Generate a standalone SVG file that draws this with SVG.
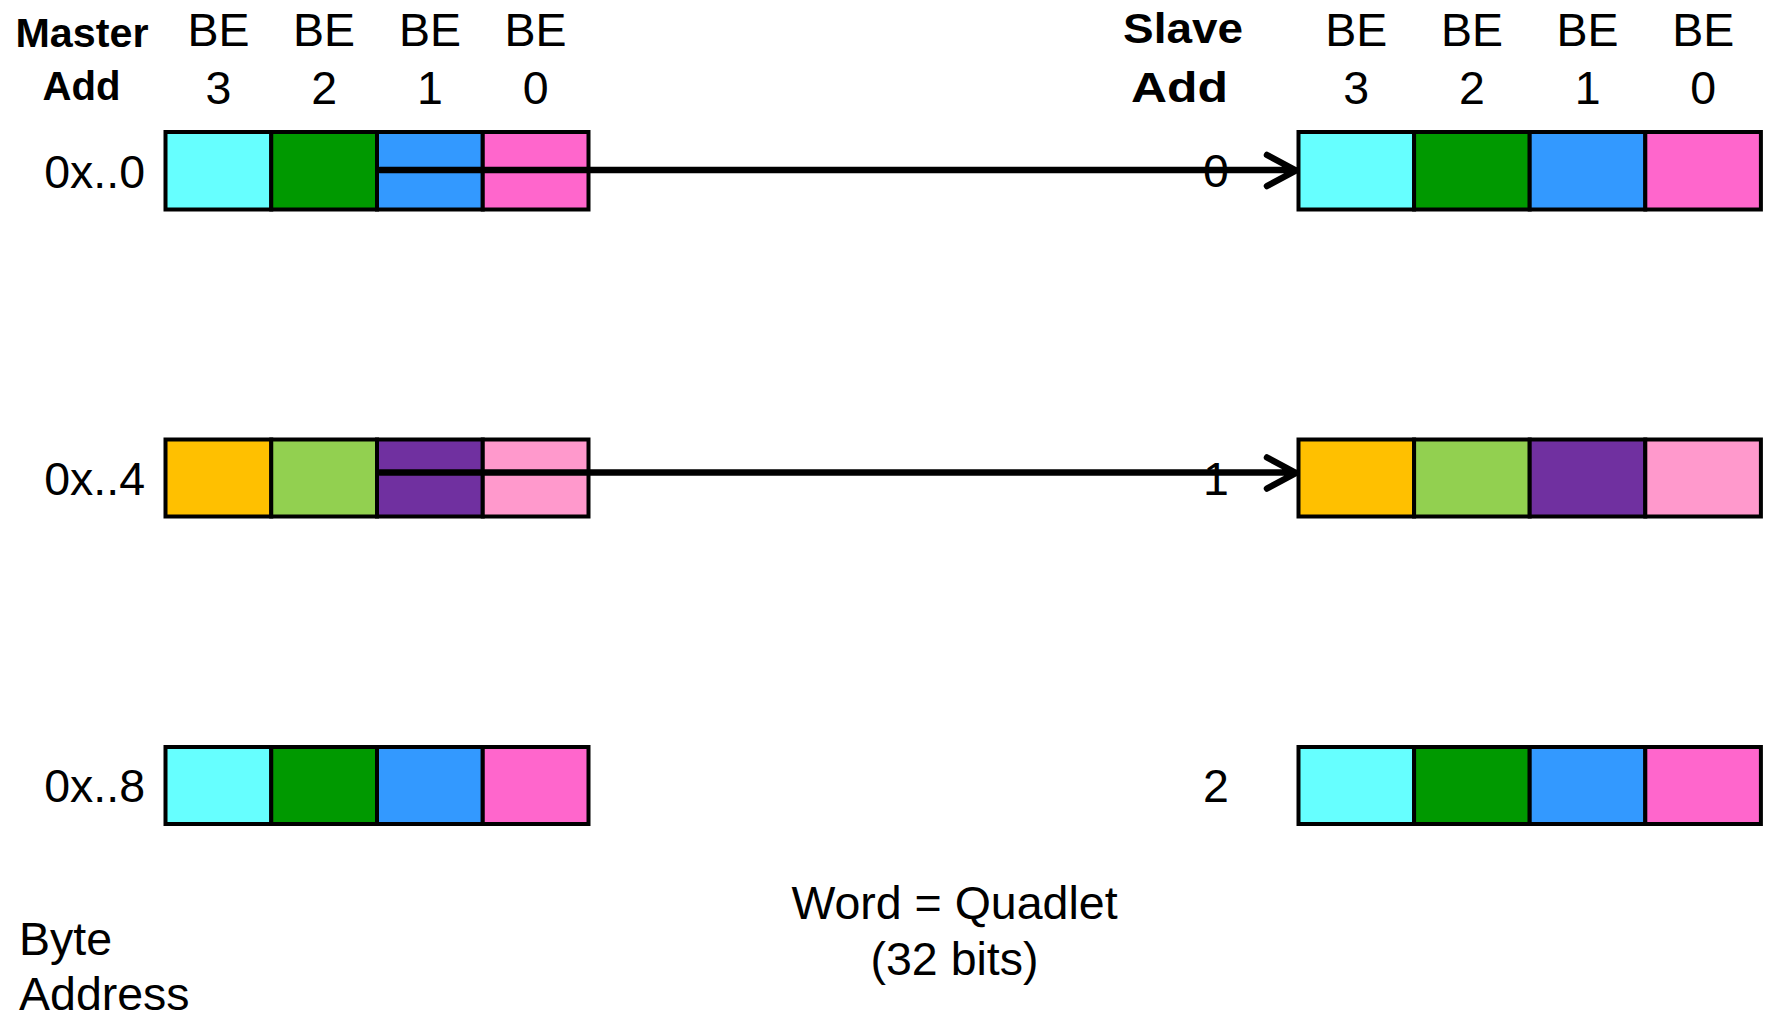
<svg xmlns="http://www.w3.org/2000/svg" width="1767" height="1019" viewBox="0 0 1767 1019">
<defs>
<style>
.t{font-family:"Liberation Sans",Arial,sans-serif;font-size:46.5px;fill:#000}
.b{font-family:"Liberation Sans",Arial,sans-serif;font-weight:bold;fill:#000}
.m{text-anchor:middle}
.e{text-anchor:end}
.c{stroke:#000;stroke-width:4}
.cy{fill:#66FFFF}.gr{fill:#009900}.bl{fill:#3399FF}.pk{fill:#FF66CC}
.or{fill:#FFC000}.lg{fill:#92D050}.pu{fill:#7030A0}.lp{fill:#FF99CC}
.ln{fill:none;stroke:#000;stroke-width:6.5;stroke-linecap:round;stroke-linejoin:round}
</style>
</defs>
<rect width="1767" height="1019" fill="#fff"/>
<g id="master-header">
<text class="b" x="15.5" y="46.5" font-size="40" textLength="133" lengthAdjust="spacingAndGlyphs">Master</text>
<text class="b" x="42.5" y="100" font-size="40" textLength="78" lengthAdjust="spacingAndGlyphs">Add</text>
<text class="t m" x="218.4" y="45.5">BE</text><text class="t m" x="218.4" y="104">3</text>
<text class="t m" x="324.1" y="45.5">BE</text><text class="t m" x="324.1" y="104">2</text>
<text class="t m" x="429.9" y="45.5">BE</text><text class="t m" x="429.9" y="104">1</text>
<text class="t m" x="535.6" y="45.5">BE</text><text class="t m" x="535.6" y="104">0</text>
</g>
<g id="slave-header">
<text class="b" x="1123" y="43" font-size="43" textLength="120" lengthAdjust="spacingAndGlyphs">Slave</text>
<text class="b" x="1131" y="101.5" font-size="43" textLength="97" lengthAdjust="spacingAndGlyphs">Add</text>
<text class="t m" x="1356.3" y="45.5">BE</text><text class="t m" x="1356.3" y="104">3</text>
<text class="t m" x="1471.9" y="45.5">BE</text><text class="t m" x="1471.9" y="104">2</text>
<text class="t m" x="1587.6" y="45.5">BE</text><text class="t m" x="1587.6" y="104">1</text>
<text class="t m" x="1703.2" y="45.5">BE</text><text class="t m" x="1703.2" y="104">0</text>
</g>
<g id="master-word-0">
<text class="t e" x="145" y="188">0x..0</text>
<rect class="c cy" x="165.5" y="132" width="105.75" height="77.5"/>
<rect class="c gr" x="271.25" y="132" width="105.75" height="77.5"/>
<rect class="c bl" x="377" y="132" width="105.75" height="77.5"/>
<rect class="c pk" x="482.75" y="132" width="105.75" height="77.5"/>
</g>
<g id="master-word-1">
<text class="t e" x="145" y="495">0x..4</text>
<rect class="c or" x="165.5" y="439.5" width="105.75" height="77"/>
<rect class="c lg" x="271.25" y="439.5" width="105.75" height="77"/>
<rect class="c pu" x="377" y="439.5" width="105.75" height="77"/>
<rect class="c lp" x="482.75" y="439.5" width="105.75" height="77"/>
</g>
<g id="master-word-2">
<text class="t e" x="145" y="802">0x..8</text>
<rect class="c cy" x="165.5" y="747" width="105.75" height="77"/>
<rect class="c gr" x="271.25" y="747" width="105.75" height="77"/>
<rect class="c bl" x="377" y="747" width="105.75" height="77"/>
<rect class="c pk" x="482.75" y="747" width="105.75" height="77"/>
</g>
<g id="slave-word-0">
<text class="t m" x="1216" y="187">0</text>
<rect class="c cy" x="1298.5" y="132" width="115.6" height="77.5"/>
<rect class="c gr" x="1414.1" y="132" width="115.6" height="77.5"/>
<rect class="c bl" x="1529.7" y="132" width="115.6" height="77.5"/>
<rect class="c pk" x="1645.3" y="132" width="115.6" height="77.5"/>
</g>
<g id="slave-word-1">
<text class="t m" x="1216" y="495">1</text>
<rect class="c or" x="1298.5" y="439.5" width="115.6" height="77"/>
<rect class="c lg" x="1414.1" y="439.5" width="115.6" height="77"/>
<rect class="c pu" x="1529.7" y="439.5" width="115.6" height="77"/>
<rect class="c lp" x="1645.3" y="439.5" width="115.6" height="77"/>
</g>
<g id="slave-word-2">
<text class="t m" x="1216" y="802">2</text>
<rect class="c cy" x="1298.5" y="747" width="115.6" height="77"/>
<rect class="c gr" x="1414.1" y="747" width="115.6" height="77"/>
<rect class="c bl" x="1529.7" y="747" width="115.6" height="77"/>
<rect class="c pk" x="1645.3" y="747" width="115.6" height="77"/>
</g>
<g id="caption-word">
<text class="t m" x="954.5" y="919">Word = Quadlet</text>
<text class="t m" x="954.5" y="975">(32 bits)</text>
</g>
<g id="caption-byte">
<text class="t" x="19" y="955">Byte</text>
<text class="t" x="19" y="1010">Address</text>
</g>
<g id="connectors">
<path class="ln" d="M380 170 H1295 M1267 155 L1296 170.5 L1267 186"/>
<path class="ln" d="M380 472.5 H1295 M1267 457.5 L1296 473 L1267 488.5"/>
</g>
</svg>
